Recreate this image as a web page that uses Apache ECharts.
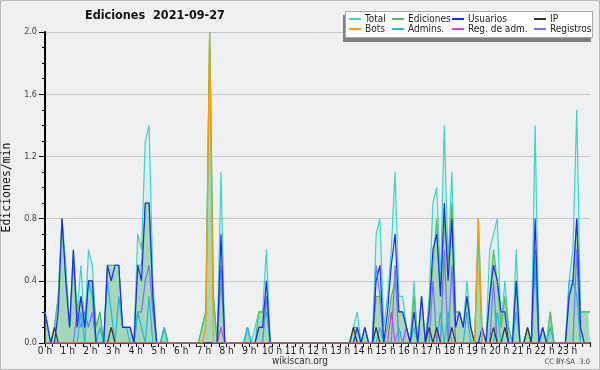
<!DOCTYPE html>
<html><head><meta charset="utf-8">
<script src="https://cdn.jsdelivr.net/npm/echarts@6/dist/echarts.min.js"></script>
<style>html,body{margin:0;padding:0;background:#eff0f2}#c{width:600px;height:370px}</style>
</head><body><div id="c"></div><script>
// 10-minute bins, 6 per hour (rows = hours 0..23), values in edits/min
const total = [
0.2,0,0.1,0.3,0.8,0.5,
0.1,0.6,0.2,0.5,0.1,0.6,
0.5,0.1,0.2,0,0.5,0.5,
0.5,0.5,0.1,0.1,0.1,0,
0.7,0.6,1.3,1.4,0.4,0,
0,0.1,0,0,0,0,
0,0,0,0,0,0.1,
0.2,2.0,0.3,0,1.1,0,
0,0,0,0,0,0.1,
0,0.1,0.2,0.2,0.6,0,
0,0,0,0,0,0,
0,0,0,0,0,0,
0,0,0,0,0,0,
0,0,0,0.1,0.2,0,
0.1,0,0,0.7,0.8,0.1,
0.3,0.6,1.1,0.3,0.3,0.1,
0,0.4,0,0.3,0,0.3,
0.9,1.0,0.4,1.4,0.5,1.1,
0.2,0.2,0.1,0.4,0.1,0,
0.8,0.1,0,0.6,0.7,0.8,
0.1,0.4,0.1,0,0.6,0,
0,0.1,0,1.4,0,0.1,
0,0.2,0,0,0,0,
0.4,0.6,1.5,0.2,0.2,0.2];
const ediciones = [
0.2,0,0.1,0.3,0.8,0.4,
0.1,0.5,0.2,0.3,0.1,0.4,
0.4,0.1,0.2,0,0.5,0.5,
0.5,0.5,0.1,0.1,0.1,0,
0.5,0.5,0.9,0.9,0.3,0,
0,0.1,0,0,0,0,
0,0,0,0,0,0.1,
0.2,2.0,0.3,0,0.4,0,
0,0,0,0,0,0.1,
0,0,0.2,0.2,0.3,0,
0,0,0,0,0,0,
0,0,0,0,0,0,
0,0,0,0,0,0,
0,0,0,0.1,0.1,0,
0.1,0,0,0.3,0.3,0,
0.1,0.3,0.4,0.2,0.2,0.1,
0,0.3,0,0.3,0,0.2,
0.5,0.8,0.3,0.8,0.5,0.9,
0.2,0.2,0.1,0.3,0.1,0,
0.7,0,0,0.3,0.6,0.4,
0.1,0.3,0.1,0,0.4,0,
0,0.1,0,0.6,0,0.1,
0,0.2,0,0,0,0,
0.3,0.4,0.8,0.2,0.2,0.2];
const usuarios = [
0.2,0,0,0.2,0.8,0.4,
0.1,0.6,0.1,0.3,0.1,0.4,
0.4,0,0,0,0.5,0.4,
0.5,0.5,0.1,0.1,0.1,0,
0.5,0.4,0.9,0.9,0.3,0,
0,0,0,0,0,0,
0,0,0,0,0,0,
0,0,0,0,0.7,0,
0,0,0,0,0,0,
0,0,0.1,0.1,0.4,0,
0,0,0,0,0,0,
0,0,0,0,0,0,
0,0,0,0,0,0,
0,0,0,0,0.1,0,
0.1,0,0,0.4,0.5,0,
0.2,0.5,0.7,0.2,0.2,0.1,
0,0.2,0,0.3,0,0.2,
0.6,0.7,0.3,0.9,0.4,0.8,
0.1,0.2,0.1,0.3,0.1,0,
0,0.1,0,0.3,0.5,0.4,
0.2,0.2,0,0,0.4,0,
0,0,0,0.8,0,0.1,
0,0,0,0,0,0,
0.3,0.4,0.8,0.1,0,0];
const ip = [
0,0,0.1,0,0,0,
0,0,0,0,0,0,
0,0,0,0,0,0.1,
0,0,0,0,0,0,
0,0,0,0,0,0,
0,0,0,0,0,0,
0,0,0,0,0,0,
0,0,0,0,0,0,
0,0,0,0,0,0,
0,0,0,0,0,0,
0,0,0,0,0,0,
0,0,0,0,0,0,
0,0,0,0,0,0,
0,0,0,0.1,0,0,
0,0,0,0.1,0,0,
0,0,0,0,0,0,
0,0,0,0,0,0.1,
0,0.1,0,0,0,0.1,
0,0,0,0,0,0,
0,0,0,0,0.1,0,
0,0.1,0,0,0,0,
0,0.1,0,0,0,0,
0,0,0,0,0,0,
0,0,0,0,0,0];
const bots = [
0,0,0,0,0,0,
0,0,0,0,0,0,
0,0,0,0,0,0,
0,0,0,0,0,0,
0,0,0,0,0,0,
0,0,0,0,0,0,
0,0,0,0,0,0,
0.1,2.0,0,0,0,0,
0,0,0,0,0,0,
0,0,0,0,0,0,
0,0,0,0,0,0,
0,0,0,0,0,0,
0,0,0,0,0,0,
0,0,0,0,0,0,
0,0,0,0,0,0,
0,0,0,0,0,0,
0,0,0,0,0,0,
0,0,0,0,0,0,
0,0,0,0,0,0,
0.8,0,0,0,0,0,
0,0,0,0,0,0,
0,0,0,0,0,0,
0,0,0,0,0,0,
0,0,0,0,0,0];
const admins = [
0,0,0,0,0,0,
0,0,0,0.2,0,0.4,
0.3,0,0.1,0,0.4,0.2,
0,0.3,0.1,0.1,0,0,
0.2,0.1,0,0.3,0,0,
0,0.1,0,0,0,0,
0,0,0,0,0,0,
0,0,0,0,0,0,
0,0,0,0,0,0.1,
0,0,0.1,0.1,0.2,0,
0,0,0,0,0,0,
0,0,0,0,0,0,
0,0,0,0,0,0,
0,0,0,0,0,0,
0,0,0,0,0.1,0,
0,0,0,0.1,0,0,
0,0.1,0,0,0,0,
0,0,0.2,0,0.2,0,
0,0,0,0.2,0,0,
0,0,0,0,0,0.2,
0,0,0,0,0.2,0,
0,0,0,0.6,0,0,
0,0.1,0,0,0,0,
0.4,0.4,0.3,0,0,0];
const regAdm = [
0,0,0,0,0,0,
0,0,0,0,0,0,
0,0,0,0,0,0,
0,0,0,0,0,0,
0,0,0,0,0,0,
0,0,0,0,0,0,
0,0,0,0,0,0,
0,0,0,0,0.1,0,
0,0,0,0,0,0,
0,0,0,0,0,0,
0,0,0,0,0,0,
0,0,0,0,0,0,
0,0,0,0,0,0,
0,0,0,0,0,0,
0,0,0,0,0,0,
0,0.2,0,0,0,0.1,
0,0,0,0,0,0,
0,0,0,0,0,0,
0,0,0,0,0,0,
0,0,0,0,0,0,
0,0,0,0,0,0,
0,0,0,0,0,0,
0,0,0,0,0,0,
0,0,0,0,0,0];
const registros = [
0,0,0,0,0,0,
0,0,0.2,0.1,0.2,0.1,
0.2,0,0,0,0,0,
0,0,0,0,0,0,
0.2,0.2,0.4,0.5,0.2,0,
0,0,0,0,0,0,
0,0,0,0,0,0,
0,0,0,0,0.5,0,
0,0,0,0,0,0,
0,0,0,0,0.3,0,
0,0,0,0,0,0,
0,0,0,0,0,0,
0,0,0,0,0,0,
0,0,0,0,0,0,
0,0,0,0.5,0.3,0,
0,0,0.5,0,0,0,
0,0,0,0,0,0,
0.4,0,0,0.6,0,0.5,
0,0,0,0,0,0,
0,0,0,0,0.4,0,
0,0,0,0,0,0,
0,0,0,0.5,0,0,
0,0,0,0,0,0,
0,0,0.6,0,0,0];
const hourLabels = ['0 h','1 h','2 h','3 h','4 h','5 h','6 h','7 h','8 h','9 h','10 h','11 h','12 h','13 h','14 h','15 h','16 h','17 h','18 h','19 h','20 h','21 h','22 h','23 h',''];
const yTickLabels = ['0.0','0.4','0.8','1.2','1.6','2.0'];

// bin centre times (hours), with the curve held to both ends of the day
function pts(vals){
  const d = vals.map((v,i)=>[(i+0.5)/6, v]);
  d.unshift([0, vals[0]]);
  d.push([24, vals[vals.length-1]]);
  return d;
}
const FONT = '"DejaVu Sans Condensed","DejaVu Sans",sans-serif';
const chart = echarts.init(document.getElementById('c'), null, {renderer:'canvas'});
function line(name, vals, color, extra){
  return Object.assign({name, type:'line', data:pts(vals), symbol:'none', animation:false,
    lineStyle:{width:1.2, color}, itemStyle:{color}}, extra||{});
}
const legendBase = {orient:'vertical', top:14, padding:0, itemGap:0, itemWidth:12, itemHeight:2, icon:'rect',
  selectedMode:false, textStyle:{fontFamily:FONT, fontSize:10, lineHeight:10, color:'#222', padding:[0,0,0,-1]}};
chart.setOption({
  backgroundColor:'transparent',
  animation:false,
  title:{text:'Ediciones  2021-09-27', left:85, top:9, padding:0,
    textStyle:{fontFamily:FONT, fontSize:12.5, fontWeight:'bold', color:'#111'}},
  grid:{left:45, right:10, top:32, bottom:27, outerBoundsMode:'none', containLabel:false},
  legend:[
    Object.assign({}, legendBase, {left:349, data:['Total','Bots']}),
    Object.assign({}, legendBase, {left:392, data:['Ediciones','Admins.']}),
    Object.assign({}, legendBase, {left:452, data:['Usuarios','Reg. de adm.']}),
    Object.assign({}, legendBase, {left:534, data:['IP','Registros']})
  ],
  graphic:[
    {type:'rect', z:0, silent:true, shape:{x:0.5, y:0.5, width:599, height:369}, style:{fill:'none', stroke:'#b8b8b8', lineWidth:1}},
    {type:'rect', z:1, shape:{x:343, y:15, width:248, height:27}, style:{fill:'#808080'}},
    {type:'rect', z:2, shape:{x:345.5, y:11.5, width:247, height:26}, style:{fill:'#ffffff', stroke:'#a8a8a8', lineWidth:1}},
    {type:'text', z:2, x:300, y:361, style:{text:'wikiscan.org', fontFamily:FONT, fontSize:10, fill:'#333', align:'center', verticalAlign:'middle'}},
    {type:'text', z:2, x:590, y:362, style:{text:'CC BY-SA  3.0', fontFamily:FONT, fontSize:7.5, fill:'#444', align:'right', verticalAlign:'middle'}}
  ],
  xAxis:{type:'value', min:0, max:24, interval:1,
    axisLine:{show:true, onZero:false, lineStyle:{color:'#000', width:2}},
    axisTick:{show:true, length:4, lineStyle:{color:'#000', width:1}},
    minorTick:{show:true, splitNumber:3, length:4, lineStyle:{color:'#000', width:1}},
    splitLine:{show:false},
    axisLabel:{formatter:(v)=>hourLabels[Math.round(v)], fontFamily:FONT, fontSize:10, color:'#222', margin:3}},
  yAxis:{type:'value', min:0, max:2, interval:0.4,
    name:'Ediciones/min', nameLocation:'middle', nameGap:29, nameRotate:90,
    nameTextStyle:{fontFamily:'"DejaVu Sans Mono",monospace', fontSize:11.5, color:'#111'},
    axisLine:{show:true, lineStyle:{color:'#000', width:2}},
    axisTick:{show:true, length:6, lineStyle:{color:'#000'}},
    minorTick:{show:true, splitNumber:4, length:3, lineStyle:{color:'#000'}},
    splitLine:{show:true, lineStyle:{color:'#c8c8c8', width:1}},
    axisLabel:{formatter:(v)=>yTickLabels[Math.round(v/0.4)], fontFamily:FONT, fontSize:9, color:'#444', margin:8}},
  series:[
    line('Total', total, '#3ed3c6', {areaStyle:{color:'rgba(175,235,235,0.45)'}}),
    line('Ediciones', ediciones, '#55bf55', {areaStyle:{color:'rgba(80,175,100,0.55)'}}),
    line('Registros', registros, '#7474f4'),
    line('Admins.', admins, '#22b6e0'),
    line('IP', ip, '#333333'),
    line('Reg. de adm.', regAdm, '#d040e8'),
    line('Usuarios', usuarios, '#1f2bea'),
    line('Bots', bots, '#ff9a00')
  ]
});
</script></body></html>
